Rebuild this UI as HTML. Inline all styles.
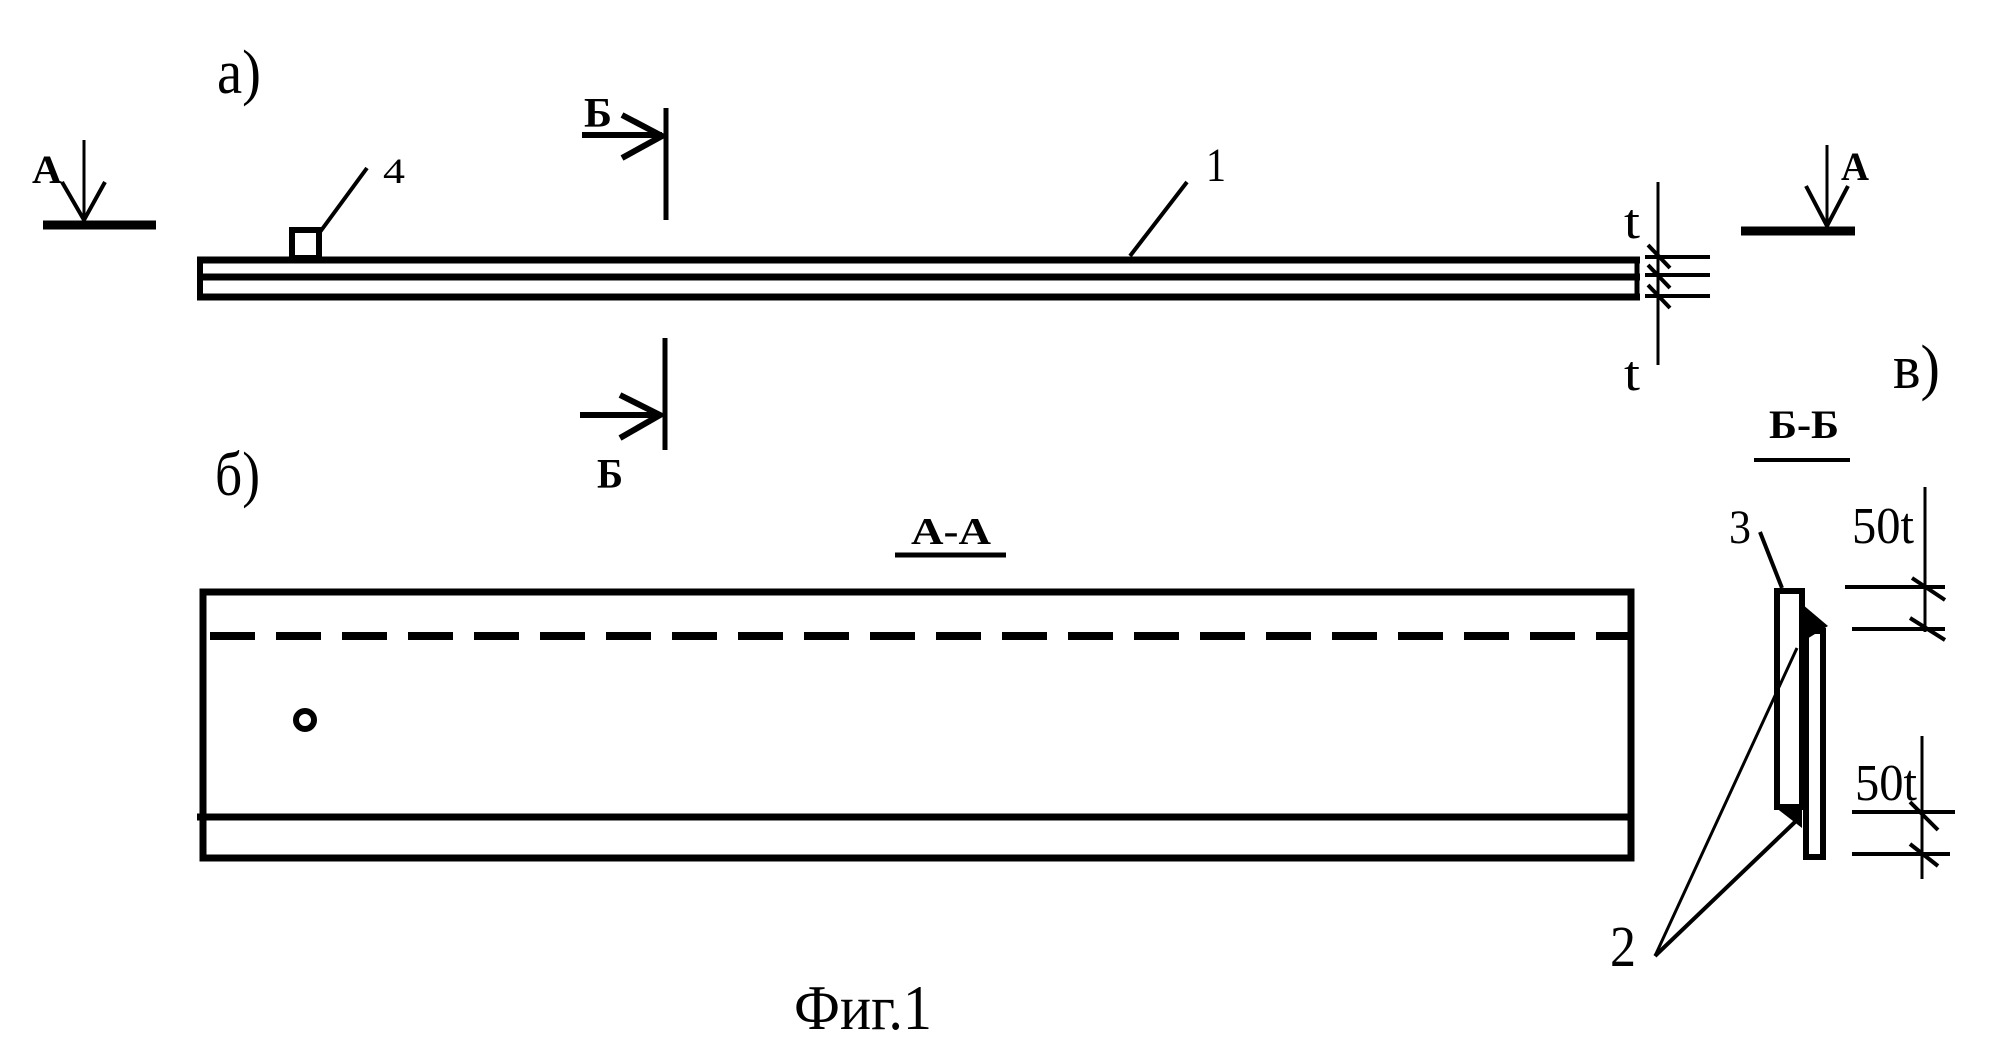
<!DOCTYPE html>
<html><head><meta charset="utf-8"><style>html,body{margin:0;padding:0;background:#fff}svg{display:block}</style></head>
<body>
<svg width="2000" height="1048" viewBox="0 0 2000 1048" xmlns="http://www.w3.org/2000/svg">
<g font-family="Liberation Serif, serif" fill="#000">
<text x="217" y="93" font-size="62" textLength="44" lengthAdjust="spacingAndGlyphs">а)</text>
<text x="215" y="495" font-size="62" textLength="45" lengthAdjust="spacingAndGlyphs">б)</text>
<text x="1893" y="388" font-size="62" textLength="47" lengthAdjust="spacingAndGlyphs">в)</text>
<text x="383" y="183" font-size="36" textLength="22" lengthAdjust="spacingAndGlyphs">4</text>
<text x="1206" y="181" font-size="48" textLength="20" lengthAdjust="spacingAndGlyphs">1</text>
<text x="1624" y="238" font-size="50" textLength="16" lengthAdjust="spacingAndGlyphs">t</text>
<text x="1624" y="390" font-size="50" textLength="16" lengthAdjust="spacingAndGlyphs">t</text>
<text x="1729" y="543" font-size="48" textLength="22" lengthAdjust="spacingAndGlyphs">3</text>
<text x="1852" y="543" font-size="52" textLength="62" lengthAdjust="spacingAndGlyphs">50t</text>
<text x="1855" y="800" font-size="52" textLength="62" lengthAdjust="spacingAndGlyphs">50t</text>
<text x="1610" y="966" font-size="58" textLength="26" lengthAdjust="spacingAndGlyphs">2</text>
<text x="794" y="1029" font-size="64" textLength="138" lengthAdjust="spacingAndGlyphs">Фиг.1</text>
<g font-weight="bold">
<text x="32" y="183" font-size="40" textLength="30" lengthAdjust="spacingAndGlyphs">А</text>
<text x="584" y="127" font-size="42" textLength="28" lengthAdjust="spacingAndGlyphs">Б</text>
<text x="597" y="488" font-size="42" textLength="26" lengthAdjust="spacingAndGlyphs">Б</text>
<text x="1841" y="180" font-size="40" textLength="28" lengthAdjust="spacingAndGlyphs">А</text>
<text x="911" y="544" font-size="38" textLength="80" lengthAdjust="spacingAndGlyphs">А-А</text>
<text x="1769" y="438" font-size="40" textLength="70" lengthAdjust="spacingAndGlyphs">Б-Б</text>
</g>
</g>
<g stroke="#000" fill="none" stroke-linecap="butt">
<line x1="84" y1="140" x2="84" y2="222" stroke-width="3"/>
<polyline points="62,182 84,220 105,182" stroke-width="4"/>
<line x1="43" y1="225" x2="156" y2="225" stroke-width="9"/>
<line x1="1827" y1="145" x2="1827" y2="228" stroke-width="3"/>
<polyline points="1806,186 1827,226 1848,186" stroke-width="4"/>
<line x1="1741" y1="231" x2="1855" y2="231" stroke-width="9"/>
<line x1="666" y1="108" x2="666" y2="220" stroke-width="5"/>
<line x1="582" y1="135" x2="662" y2="135" stroke-width="6"/>
<polyline points="622,115 662,136 622,158" stroke-width="6"/>
<line x1="665" y1="338" x2="665" y2="450" stroke-width="5"/>
<line x1="580" y1="415" x2="660" y2="415" stroke-width="6"/>
<polyline points="620,395 660,415 620,438" stroke-width="6"/>
<line x1="197" y1="260" x2="1640" y2="260" stroke-width="7"/>
<line x1="200" y1="277" x2="1640" y2="277" stroke-width="7"/>
<line x1="197" y1="297" x2="1640" y2="297" stroke-width="7"/>
<line x1="200" y1="257" x2="200" y2="300" stroke-width="6"/>
<line x1="1637" y1="257" x2="1637" y2="300" stroke-width="5"/>
<rect x="292" y="230" width="27" height="28" stroke-width="6"/>
<line x1="320" y1="232" x2="367" y2="168" stroke-width="4"/>
<line x1="1130" y1="256" x2="1187" y2="182" stroke-width="4"/>
<line x1="1658" y1="182" x2="1658" y2="365" stroke-width="3"/>
<line x1="1645" y1="257" x2="1710" y2="257" stroke-width="4"/>
<line x1="1645" y1="275" x2="1710" y2="275" stroke-width="4"/>
<line x1="1645" y1="296" x2="1710" y2="296" stroke-width="4"/>
<line x1="1648" y1="245" x2="1670" y2="268" stroke-width="4"/>
<line x1="1648" y1="265" x2="1670" y2="288" stroke-width="4"/>
<line x1="1648" y1="285" x2="1670" y2="308" stroke-width="4"/>
<line x1="895" y1="555" x2="1006" y2="555" stroke-width="5"/>
<rect x="203" y="592" width="1428" height="266" stroke-width="7"/>
<line x1="210" y1="636" x2="1631" y2="636" stroke-width="8" stroke-dasharray="45,21"/>
<line x1="197" y1="817" x2="1631" y2="817" stroke-width="7"/>
<circle cx="305" cy="720" r="9" stroke-width="6"/>
<line x1="1754" y1="460" x2="1850" y2="460" stroke-width="4"/>
<line x1="1760" y1="532" x2="1782" y2="588" stroke-width="4"/>
<rect x="1777" y="591" width="25" height="216" stroke-width="6"/>
<rect x="1806" y="631" width="17" height="226" stroke-width="6"/>
<line x1="1925" y1="487" x2="1925" y2="632" stroke-width="3"/>
<line x1="1845" y1="587" x2="1945" y2="587" stroke-width="4"/>
<line x1="1852" y1="629" x2="1945" y2="629" stroke-width="4"/>
<line x1="1912" y1="578" x2="1945" y2="600" stroke-width="4"/>
<line x1="1910" y1="618" x2="1945" y2="640" stroke-width="4"/>
<line x1="1922" y1="736" x2="1922" y2="879" stroke-width="3"/>
<line x1="1852" y1="812" x2="1955" y2="812" stroke-width="4"/>
<line x1="1852" y1="854" x2="1950" y2="854" stroke-width="4"/>
<line x1="1910" y1="802" x2="1938" y2="830" stroke-width="4"/>
<line x1="1910" y1="844" x2="1938" y2="866" stroke-width="4"/>
<line x1="1655" y1="956" x2="1797" y2="648" stroke-width="3"/>
<line x1="1655" y1="956" x2="1795" y2="822" stroke-width="4"/>
</g>
<polygon points="1802,604 1828,626 1802,642" fill="#000"/>
<polygon points="1775,807 1802,807 1802,828" fill="#000"/>
</svg>
</body></html>
